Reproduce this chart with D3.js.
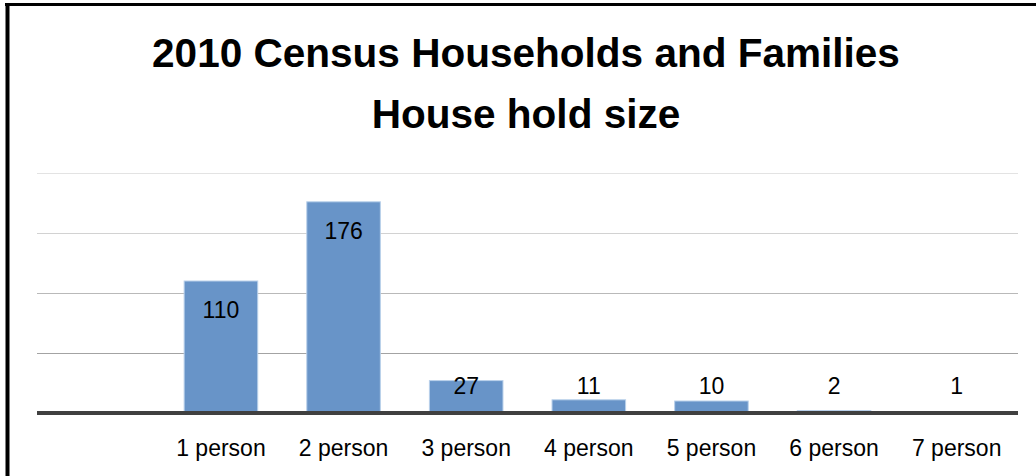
<!DOCTYPE html>
<html>
<head>
<meta charset="utf-8">
<script src="https://cdn.jsdelivr.net/npm/d3@7"></script>
<style>
  html, body { margin: 0; padding: 0; background: #fff; }
  svg { display: block; }
</style>
</head>
<body>
<svg id="chart" width="1036" height="476"></svg>
<script>
const titleLines = ["2010 Census Households and Families", "House hold size"];
const categories = ["1 person", "2 person", "3 person", "4 person", "5 person", "6 person", "7 person"];
const values = [110, 176, 27, 11, 10, 2, 1];
const yTicks = [50, 100, 150, 200];
const gridColors = ["#a3a3a3", "#b9b9b9", "#d2d2d2", "#e3e3e3"];

(function () {
const W = 1036, H = 476;
const svg = d3.select("#chart");
const font = "'Liberation Sans', Arial, sans-serif";

// frame (black border on top and left)
svg.append("line").attr("x1", 5).attr("x2", W).attr("y1", 4.5).attr("y2", 4.5)
  .attr("stroke", "#000").attr("stroke-width", 3);
svg.append("line").attr("x1", 7.5).attr("x2", 7.5).attr("y1", 3).attr("y2", H)
  .attr("stroke", "#000").attr("stroke-width", 4);

const pLeft = 37, pRight = 1018, pTop = 173, pBase = 413;

const x = d3.scaleBand()
  .domain([""].concat(categories))
  .range([pLeft, pRight])
  .paddingInner(0.4)
  .paddingOuter(0.2);

const y = d3.scaleLinear().domain([0, 200]).range([pBase, pTop]);

// gridlines
svg.append("g").selectAll("line").data(yTicks).join("line")
  .attr("x1", pLeft).attr("x2", pRight)
  .attr("y1", d => Math.round(y(d)) + 0.5).attr("y2", d => Math.round(y(d)) + 0.5)
  .attr("stroke", (d, i) => gridColors[i]).attr("stroke-width", 1.2);

// bars
svg.append("g").selectAll("rect").data(values).join("rect")
  .attr("x", (d, i) => x(categories[i]))
  .attr("width", x.bandwidth())
  .attr("y", d => y(d))
  .attr("height", d => pBase - y(d))
  .attr("fill", "#6894c8")
  .attr("stroke", "#b9d0ea")
  .attr("stroke-width", 1);

// baseline axis
const axis = d3.axisBottom(x).tickSize(0).tickPadding(0);
const ax = svg.append("g").attr("transform", `translate(0,${pBase})`).call(axis);
ax.select(".domain").remove();
ax.selectAll(".tick text").remove();
svg.append("line").attr("x1", pLeft).attr("x2", pRight).attr("y1", pBase).attr("y2", pBase)
  .attr("stroke", "#404040").attr("stroke-width", 4);

// category labels
svg.append("g").selectAll("text").data(categories).join("text")
  .attr("x", d => x(d) + x.bandwidth() / 2)
  .attr("y", 456)
  .attr("text-anchor", "middle")
  .attr("font-family", font)
  .attr("font-size", 23)
  .attr("fill", "#000")
  .text(d => d);

// data labels
svg.append("g").selectAll("text").data(values).join("text")
  .attr("x", (d, i) => x(categories[i]) + x.bandwidth() / 2)
  .attr("y", d => Math.min(y(d) + 37, 394))
  .attr("text-anchor", "middle")
  .attr("font-family", font)
  .attr("font-size", 23)
  .attr("fill", "#000")
  .text(d => d);

// title
const t1 = svg.append("text")
  .attr("x", 526).attr("y", 67)
  .attr("text-anchor", "middle")
  .attr("font-family", font)
  .attr("font-weight", "bold")
  .attr("font-size", 40)
  .text(titleLines[0]);
const w1 = t1.node().getComputedTextLength();
const fs = 40 * 748 / w1;
t1.attr("font-size", fs);
svg.append("text")
  .attr("x", 526).attr("y", 128)
  .attr("text-anchor", "middle")
  .attr("font-family", font)
  .attr("font-weight", "bold")
  .attr("font-size", fs)
  .text(titleLines[1]);
})();
</script>
</body>
</html>
